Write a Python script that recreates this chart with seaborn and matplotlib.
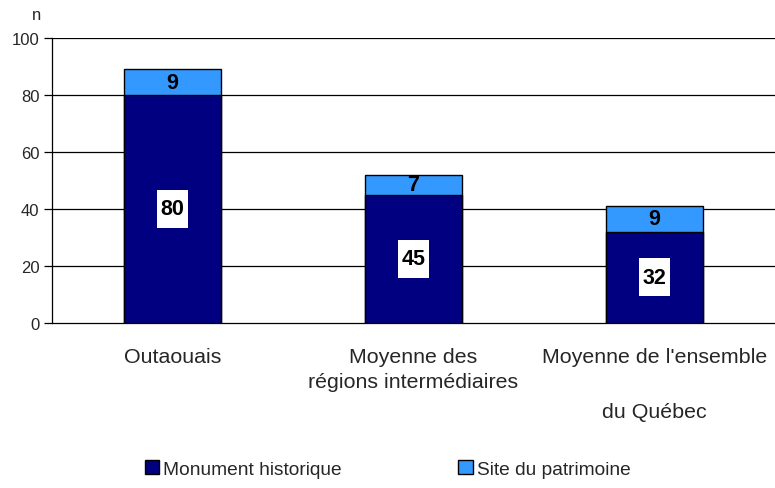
import matplotlib
matplotlib.use("Agg")
import matplotlib.pyplot as plt
import seaborn as sns
import numpy as np
import pandas as pd
from matplotlib.patches import Patch
from matplotlib.path import Path

categories = ["Outaouais", "Moyenne des\nrégions intermédiaires", "Moyenne de l'ensemble\n\ndu Québec"]
monument = [80, 45, 32]
site = [9, 7, 9]
yticks = [0, 20, 40, 60, 80, 100]

sns.set_theme(style="white")
plt.rcParams['font.family'] = ['Liberation Sans', 'DejaVu Sans']

navy = "#000080"
light = "#3399FF"

df = pd.DataFrame({"cat": categories, "monument": monument, "site": site})
df["total"] = df["monument"] + df["site"]


def label_box(x0, y0, width, height, mutation_size):
    hp, vp = 3.5, 8.5
    return Path.unit_rectangle().transformed(
        matplotlib.transforms.Affine2D().scale(width + 2 * hp, height + 2 * vp).translate(x0 - hp, y0 - vp))


fig = plt.figure(figsize=(7.75, 4.89), dpi=100)
ax = fig.add_axes([52/775, 1-324/489, 1-52/775, (324-39)/489])

for y in yticks[1:]:
    ax.axhline(y, color="black", lw=0.9, zorder=0)

sns.barplot(data=df, x="cat", y="total", color=light, edgecolor="black", linewidth=1,
            width=0.405, saturation=1, ax=ax, zorder=2)
sns.barplot(data=df, x="cat", y="monument", color=navy, edgecolor="black", linewidth=1,
            width=0.405, saturation=1, ax=ax, zorder=3)

for i in range(len(categories)):
    ax.text(i, monument[i] / 2, str(monument[i]), ha="center", va="center", fontsize=15.5,
            fontweight="bold", color="black", zorder=5,
            bbox=dict(facecolor="white", edgecolor="none", boxstyle=label_box))
    ax.text(i, monument[i] + site[i] / 2, str(site[i]), ha="center", va="center", fontsize=15.5,
            fontweight="bold", color="black", zorder=5)

ax.set_xlim(-0.5, 2.5)
ax.set_ylim(0, 100)
ax.set_yticks(yticks)
ax.set_yticklabels([str(v) for v in yticks], fontsize=12)
ax.set_xticks(range(len(categories)))
ax.set_xticklabels(categories, fontsize=15.4, va="top", linespacing=1.42)
ax.get_xticklabels()[2].set_linespacing(1.58)
ax.tick_params(axis="x", length=0, pad=17)
ax.set_xticks([0.5, 1.5], minor=True)
ax.tick_params(axis="x", which="minor", length=6, color="black", width=0.9, direction="out")
ax.tick_params(axis="y", length=6, color="black", width=0.9, direction="out", pad=3, left=True)
ax.set_xlabel("")
ax.set_ylabel("")
for s in ["top", "right"]:
    ax.spines[s].set_visible(False)
ax.spines["left"].set_color("black")
ax.spines["bottom"].set_color("black")
ax.spines["left"].set_linewidth(0.9)
ax.spines["bottom"].set_linewidth(0.9)
ax.spines["left"].set_zorder(4)

fig.text(37/775, 1-15/489, "n", fontsize=12, ha="center", va="center")

handles = [Patch(facecolor=navy, edgecolor="black", label="Monument historique"),
           Patch(facecolor=light, edgecolor="black", label="Site du patrimoine")]
fig.legend(handles=handles, loc="center", bbox_to_anchor=(0.50, 1-470/489), ncol=2,
           frameon=False, fontsize=13.8, handlelength=0.75, handleheight=0.75,
           handletextpad=0.2, columnspacing=6.1, borderpad=0, borderaxespad=0)

fig.savefig("out.png", dpi=100)
